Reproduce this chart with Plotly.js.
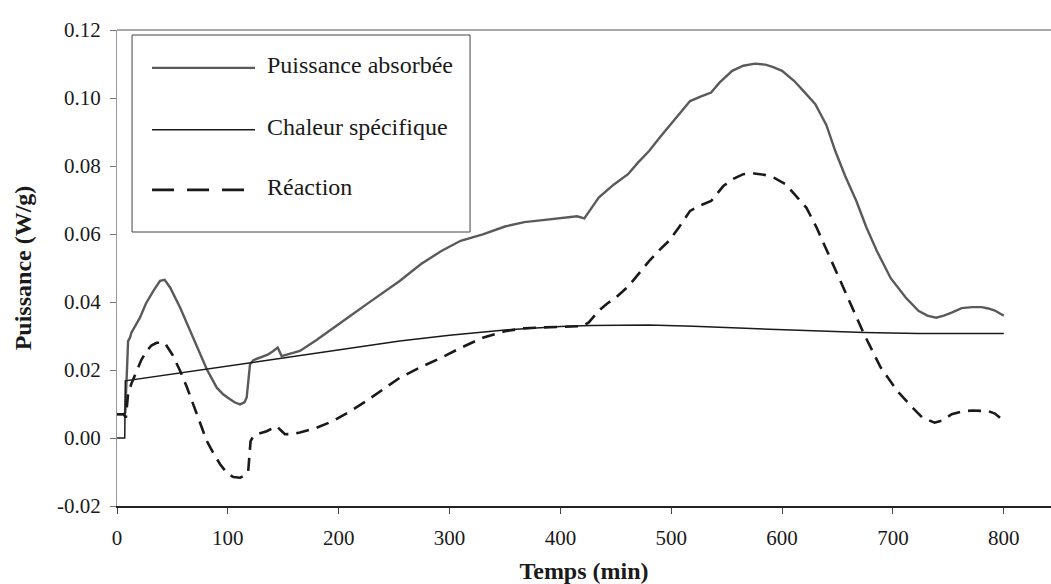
<!DOCTYPE html>
<html>
<head>
<meta charset="utf-8">
<script src="https://cdn.plot.ly/plotly-3.0.1.min.js"></script>
<style>
html,body{margin:0;padding:0;background:#fff;}
#chart{width:1051px;height:584px;}
</style>
</head>
<body>
<div id="chart"></div>
<script>
// ---- Data ----
const seriesNames = ["Puissance absorbée", "Chaleur spécifique", "Réaction"];

const puissanceX = [0, 6, 7.5, 9, 10, 11.7, 13, 20.7, 26, 32.7, 38.8, 43, 48, 57, 66, 75, 81, 90, 96, 102, 106, 111, 115, 117, 118.5, 120, 123, 130, 136, 141, 145, 148.5, 156, 165, 180, 195, 210, 225, 240, 255, 274, 292.6, 310, 330, 350, 367.5, 382, 395, 405, 415, 421.6, 428, 434.6, 448, 461, 470, 480, 490, 500, 508, 517, 527, 536, 543.5, 555, 565, 575.5, 585, 592, 600, 611, 620, 630, 640, 648, 657, 667, 676, 685.5, 698, 711.5, 723, 731, 739, 746, 753, 762, 771.5, 780, 786, 792, 797.7, 800];
const puissanceY = [0.007, 0.007, 0.0075, 0.02, 0.0285, 0.0295, 0.031, 0.0354, 0.0395, 0.0432, 0.0462, 0.0465, 0.0442, 0.0383, 0.0315, 0.0246, 0.0202, 0.0148, 0.0128, 0.0114, 0.0105, 0.0099, 0.0105, 0.0119, 0.016, 0.0217, 0.0229, 0.0238, 0.0245, 0.0256, 0.0266, 0.0241, 0.0248, 0.0256, 0.0288, 0.0324, 0.0358, 0.0393, 0.0428, 0.0462, 0.0511, 0.055, 0.058, 0.0599, 0.0622, 0.0635, 0.064, 0.0645, 0.065, 0.0652, 0.0646, 0.0675, 0.0707, 0.0745, 0.0776, 0.081, 0.0844, 0.0885, 0.0925, 0.0955, 0.0991, 0.1005, 0.1016, 0.1045, 0.108, 0.1095, 0.1101, 0.1098, 0.1091, 0.108, 0.105, 0.1018, 0.0982, 0.092, 0.0844, 0.077, 0.0697, 0.062, 0.055, 0.047, 0.0413, 0.0374, 0.036, 0.0354, 0.036, 0.0369, 0.0382, 0.0385, 0.0385, 0.0381, 0.0375, 0.0364, 0.036];

const chaleurX = [0, 7, 7.5, 50, 100, 150, 200, 255, 300, 350, 400, 427, 480, 520, 555, 600, 630, 674, 723, 760, 800];
const chaleurY = [0, 0, 0.0168, 0.0188, 0.0212, 0.0236, 0.0259, 0.0285, 0.0302, 0.0318, 0.0328, 0.0331, 0.0332, 0.0329, 0.0324, 0.0319, 0.0315, 0.031, 0.0307, 0.0306, 0.0307];

const reactionX = [0, 6, 8, 9, 10, 13, 17.7, 22, 26.8, 31, 35.7, 43, 50, 57, 63, 69, 75, 81, 87, 93, 99, 105, 111, 116, 118.4, 120, 120.5, 123, 126, 135, 144, 148, 151.5, 158, 165, 180, 195, 210, 225, 240, 255, 275, 292.6, 310, 330, 350, 367.5, 382, 400, 420, 425.6, 434.6, 442, 450, 461, 470, 480, 490, 498, 507, 517, 527, 536, 547, 556, 565, 575, 584, 593, 603, 612, 622, 631, 640.5, 650, 661, 674, 689, 704, 716, 726.6, 737.6, 745, 753, 762, 771.5, 780, 786, 792, 797.7, 800];
const reactionY = [0.007, 0.007, 0.006, 0.01, 0.013, 0.016, 0.0197, 0.023, 0.0256, 0.0272, 0.028, 0.028, 0.0245, 0.0197, 0.015, 0.0099, 0.0045, -0.0009, -0.0045, -0.0077, -0.0102, -0.0115, -0.0117, -0.0108, -0.0097, -0.004, -0.0009, 0.0005, 0.0011, 0.002, 0.0035, 0.0022, 0.0011, 0.0012, 0.0016, 0.003, 0.005, 0.0078, 0.0109, 0.0143, 0.0177, 0.021, 0.0236, 0.0265, 0.0295, 0.0314, 0.0323, 0.0325, 0.0327, 0.0329, 0.034, 0.0374, 0.0395, 0.0413, 0.0445, 0.048, 0.052, 0.0555, 0.058, 0.062, 0.0668, 0.0685, 0.0697, 0.0741, 0.0762, 0.0776, 0.0778, 0.0774, 0.0765, 0.0747, 0.0715, 0.0677, 0.062, 0.055, 0.048, 0.0403, 0.0305, 0.0207, 0.0138, 0.0095, 0.006, 0.0045, 0.0052, 0.007, 0.0078, 0.0081, 0.008, 0.0079, 0.0072, 0.0055, 0.005];

const xTickVals = [0, 100, 200, 300, 400, 500, 600, 700, 800];
const xTickText = ["0", "100", "200", "300", "400", "500", "600", "700", "800"];
const yTickVals = [-0.02, 0, 0.02, 0.04, 0.06, 0.08, 0.10, 0.12];
const yTickText = ["-0.02", "0.00", "0.02", "0.04", "0.06", "0.08", "0.10", "0.12"];

const xTitle = "Temps (min)";
const yTitle = "Puissance (W/g)";

// ---- Styles ----
const FONT = "Liberation Serif";
const styles = [
  {color: "#5a5a5a", width: 2.4, dash: "solid"},
  {color: "#1a1a1a", width: 1.5, dash: "solid"},
  {color: "#1a1a1a", width: 2.6, dash: "13px,8px"}
];
const legendDash = ["solid", "solid", "22px,13px"];

const traces = [
  {x: puissanceX, y: puissanceY, name: seriesNames[0]},
  {x: chaleurX, y: chaleurY, name: seriesNames[1]},
  {x: reactionX, y: reactionY, name: seriesNames[2]}
].map((t, i) => Object.assign(t, {
  type: "scatter", mode: "lines", showlegend: false, hoverinfo: "skip",
  line: {color: styles[i].color, width: styles[i].width, dash: styles[i].dash}
}));

// Manual legend (box + sample lines + labels), paper coordinates
const legBox = {x0: 0.0161, x1: 0.378, y0: 0.5756, y1: 0.9895};
const legRows = [0.9265, 0.7962, 0.6702];
const shapes = [
  {type: "line", xref: "paper", yref: "paper", x0: 0, x1: 1, y0: 1, y1: 1,
   line: {color: "#555", width: 1.2}},
  {type: "rect", xref: "paper", yref: "paper", x0: legBox.x0, x1: legBox.x1, y0: legBox.y0, y1: legBox.y1,
   line: {color: "#444", width: 1}, fillcolor: "rgba(255,255,255,1)", layer: "above"}
];
const annotations = [];
seriesNames.forEach((n, i) => {
  shapes.push({type: "line", xref: "paper", yref: "paper", x0: 0.0375, x1: 0.1478,
    y0: legRows[i] - 0.006, y1: legRows[i] - 0.006, layer: "above",
    line: {color: styles[i].color, width: styles[i].width, dash: legendDash[i]}});
  annotations.push({xref: "paper", yref: "paper", x: 0.1585, y: legRows[i],
    xanchor: "left", yanchor: "middle", showarrow: false, text: n,
    font: {family: FONT, size: 24, color: "#1a1a1a"}});
});

const layout = {
  width: 1051, height: 584,
  margin: {l: 117, r: 0, t: 30, b: 78, pad: 0},
  paper_bgcolor: "#fff", plot_bgcolor: "#fff",
  showlegend: false,
  font: {family: FONT, size: 20, color: "#1a1a1a"},
  xaxis: {
    range: [0, 842.6], tickvals: xTickVals, ticktext: xTickText,
    showgrid: false, zeroline: false, showline: true, linecolor: "#222", linewidth: 2,
    ticks: "outside", ticklen: 6, tickcolor: "#444", tickwidth: 1,
    ticklabelstandoff: 6,
    tickfont: {family: FONT, size: 21, color: "#1a1a1a"},
    title: {text: "<b>" + xTitle + "</b>", font: {family: FONT, size: 24, color: "#1a1a1a"}, standoff: 14}
  },
  yaxis: {
    range: [-0.02, 0.12], tickvals: yTickVals, ticktext: yTickText,
    showgrid: false, zeroline: false, showline: true, linecolor: "#999", linewidth: 1,
    ticks: "outside", ticklen: 6, tickcolor: "#777", tickwidth: 1,
    ticklabelstandoff: 5,
    tickfont: {family: FONT, size: 21, color: "#1a1a1a"},
    title: {text: "<b>" + yTitle + "</b>", font: {family: FONT, size: 24, color: "#1a1a1a"}, standoff: 18}
  },
  shapes: shapes,
  annotations: annotations
};

Plotly.newPlot("chart", traces, layout, {staticPlot: true, displayModeBar: false});
</script>
</body>
</html>
